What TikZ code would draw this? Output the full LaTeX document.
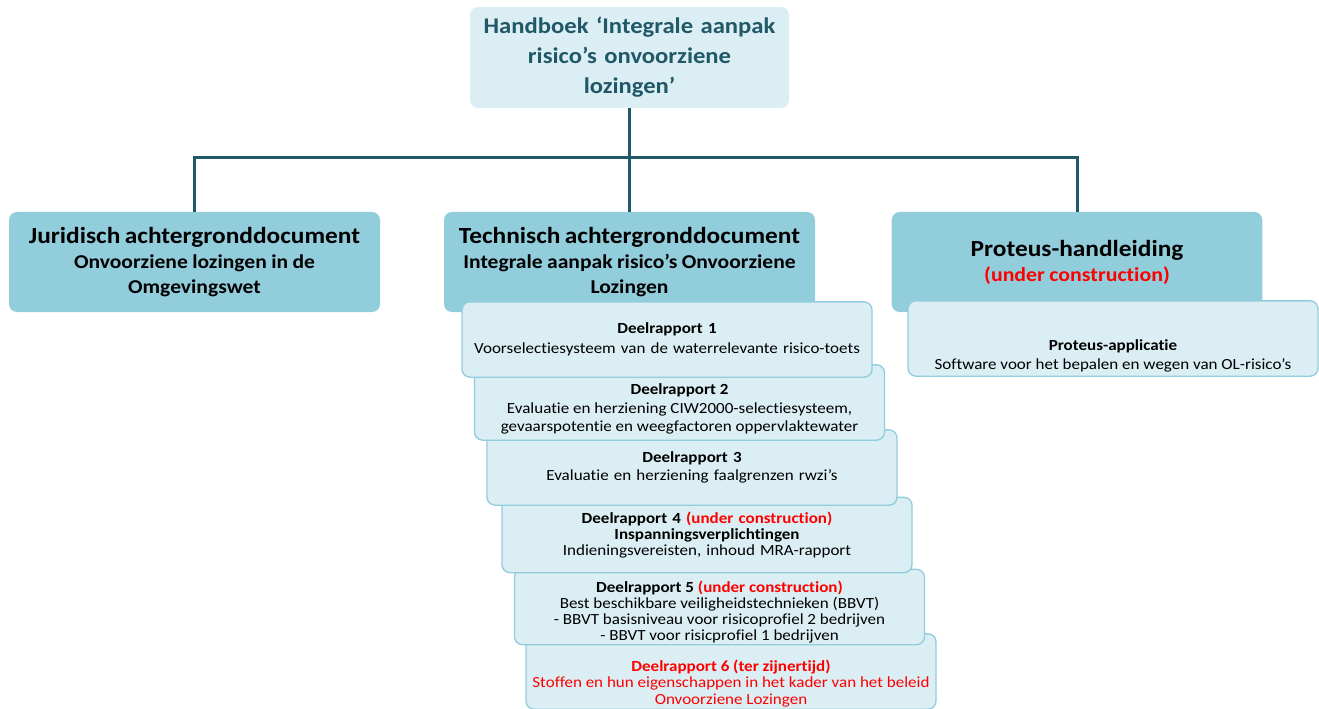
\documentclass[tikz,border=0pt]{standalone}
\usepackage{fontspec}
\setmainfont{Carlito}[FakeStretch=1.1, Ligatures=NoCommon]
\usepackage{xcolor}
\definecolor{darkteal}{HTML}{215868}
\definecolor{midblue}{HTML}{92CDDC}
\definecolor{lightblue}{HTML}{DAEEF3}
\definecolor{edgeblue}{HTML}{93CDDD}
\definecolor{redtxt}{HTML}{FF0000}

\begin{document}
\begin{tikzpicture}[x=0.75pt,y=-0.75pt,
    topbox/.style={fill=lightblue, rounded corners=6pt, minimum width=239.25pt, minimum height=75.75pt,
        text width=235pt, align=center, inner sep=0pt, text=darkteal, font=\bfseries\fontsize{16.8}{22.5}\selectfont},
    mainbox/.style={fill=midblue, rounded corners=6pt, minimum height=75pt, text width=274pt,
        align=center, inner xsep=2pt, inner ysep=0pt},
    subbox/.style={fill=lightblue, draw=edgeblue, line width=1pt, rounded corners=6pt,
        minimum width=307.5pt, minimum height=56.5pt, text width=304pt, align=center, inner xsep=1pt, inner ysep=0pt,
        font=\fontsize{11.6}{13.5}\selectfont},
    subtext/.style={align=center, inner sep=0pt},
    link/.style={draw=darkteal, line width=2.25pt}]
        \useasboundingbox (0,0) rectangle (1319,709);

        % Top: handbook
        \node[topbox] (hb) at (629.5,57.5) {Handboek ‘Integrale aanpak\\risico’s onvoorziene\\lozingen’};

        % Second level
        \node[mainbox, minimum width=278.25pt] (jur) at (194.5,262)
            {{\bfseries\fontsize{17.3}{21}\selectfont Juridisch achtergronddocument\par}
             {\bfseries\fontsize{14.7}{18.8}\selectfont Onvoorziene lozingen in de\\Omgevingswet\par}};
        \node[mainbox, minimum width=278.25pt] (tech) at (629.5,262)
            {{\bfseries\fontsize{17.3}{21}\selectfont Technisch achtergronddocument\par}
             {\bfseries\fontsize{14.7}{18.8}\selectfont Integrale aanpak risico’s Onvoorziene\\Lozingen\par}};
        \node[mainbox, minimum width=277.5pt] (prot) at (1077,262)
            {{\bfseries\fontsize{17.3}{21}\selectfont Proteus-handleiding\par}
             {\bfseries\fontsize{14.9}{18.8}\selectfont\color{redtxt}(under construction)\par}};

        % Connectors
        \coordinate (fork) at (629.5,158);
        \draw[link] (hb.south) -- (fork);
        \draw[link] (jur.north) |- (fork) -| (prot.north);
        \draw[link] (fork) -- (tech.north);

        % Proteus application
        \node[subbox, minimum width=307.5pt] (app) at (1113,338.5) {};
        \node[subtext, font=\fontsize{11.6}{14}\selectfont] (apptxt) at ([yshift=-13pt]app.center)
            {\textbf{Proteus-applicatie}\\Software voor het bepalen en wegen van OL-risico’s};

        % Sub-reports (drawn bottom up so upper ones lie on top)
        \node[subbox] (d6) at (731,671.5) {};
        \node[subtext, text=redtxt, font=\fontsize{11.6}{12.4}\selectfont] (d6txt) at ([yshift=-9pt]d6.center)
            {\textbf{Deelrapport 6 (ter zijnertijd)}\\Stoffen en hun eigenschappen in het kader van het beleid\\Onvoorziene Lozingen};
        \node[subbox] (d5) at (719.5,607) {};
        \node[subtext, font=\fontsize{11.6}{12}\selectfont] (d5txt) at ([yshift=-4pt]d5.center)
            {\textbf{Deelrapport 5 \textcolor{redtxt}{(under construction)}}\\Best beschikbare veiligheidstechnieken (BBVT)\\- BBVT basisniveau voor risicoprofiel 2 bedrijven\\- BBVT voor risicprofiel 1 bedrijven};
        \node[subbox, font=\fontsize{11.6}{11.8}\selectfont] (d4) at (707,535)
            {\textbf{Deelrapport 4 \textcolor{redtxt}{(under construction)}}\\\textbf{Inspanningsverplichtingen}\\Indieningsvereisten, inhoud MRA-rapport};
        \node[subbox] (d3) at (692,467.5)
            {\textbf{Deelrapport 3}\\Evaluatie en herziening faalgrenzen rwzi’s};
        \node[subbox] (d2) at (679.5,402.5) {};
        \node[subtext, font=\fontsize{11.6}{13.9}\selectfont] (d2txt) at ([yshift=-5pt]d2.center)
            {\textbf{Deelrapport 2}\\Evaluatie en herziening CIW2000-selectiesysteem,\\gevaarspotentie en weegfactoren oppervlaktewater};
        \node[subbox, font=\fontsize{11.6}{15}\selectfont] (d1) at (667,339.5)
            {\textbf{Deelrapport 1}\\Voorselectiesysteem van de waterrelevante risico-toets};
\end{tikzpicture}
\end{document}
